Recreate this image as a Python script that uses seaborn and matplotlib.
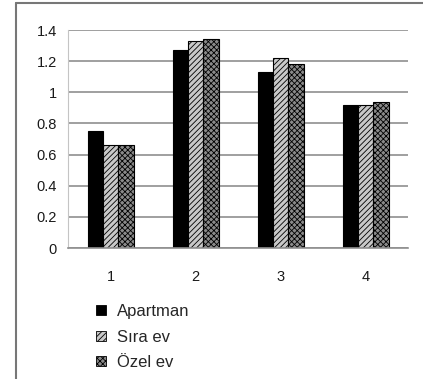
import matplotlib
matplotlib.use("Agg")
import matplotlib.pyplot as plt
from matplotlib.lines import Line2D
from matplotlib.patches import Patch
import seaborn as sns
import pandas as pd

categories = ["1", "2", "3", "4"]
series = ["Apartman", "Sıra ev", "Özel ev"]
apartman = [0.75, 1.27, 1.13, 0.92]
sira_ev = [0.66, 1.33, 1.22, 0.92]
ozel_ev = [0.66, 1.34, 1.18, 0.94]
yticks = [0, 0.2, 0.4, 0.6, 0.8, 1, 1.2, 1.4]
ytick_labels = ["0", "0.2", "0.4", "0.6", "0.8", "1", "1.2", "1.4"]

rows = []
for name, vals in zip(series, [apartman, sira_ev, ozel_ev]):
    for c, v in zip(categories, vals):
        rows.append({"cat": c, "series": name, "value": v})
df = pd.DataFrame(rows)

sns.set_theme(style="white")
plt.rcParams["font.family"] = ["Liberation Sans", "DejaVu Sans"]
plt.rcParams["hatch.linewidth"] = 0.6

fills = {"Apartman": "#000000", "Sıra ev": "#c8c8c8", "Özel ev": "#8a8a8a"}
hatches = {"Apartman": "", "Sıra ev": "//////", "Özel ev": "xxxxxx"}

fig = plt.figure(figsize=(4.23, 3.79), dpi=100)
ax = fig.add_axes([0.161, 0.3456, 0.804, 0.575])

sns.barplot(data=df, x="cat", y="value", hue="series", order=categories,
            hue_order=series, palette=fills, width=0.54, gap=0.0,
            edgecolor="black", linewidth=0.8, legend=False, ax=ax)

for container, name in zip(ax.containers, series):
    for bar in container:
        bar.set_hatch(hatches[name])

ax.set_ylim(0, 1.4)
ax.set_xlim(-0.5, 3.5)
ax.set_yticks(yticks)
ax.set_yticklabels(ytick_labels)
ax.yaxis.grid(True, color="#8f8f8f", linewidth=1.2)
ax.set_axisbelow(True)
for s in ["top", "right"]:
    ax.spines[s].set_visible(False)
ax.spines["left"].set_color("#c4c4c4")
ax.spines["left"].set_linewidth(0.8)
ax.spines["bottom"].set_color("#8f8f8f")
ax.spines["bottom"].set_linewidth(1.2)
ax.set_xlabel("")
ax.set_ylabel("")
ax.tick_params(axis="y", length=3, width=1.2, color="#8f8f8f", labelsize=10.5,
               pad=5, labelcolor="#1a1a1a")
ax.tick_params(axis="x", which="major", length=0, labelsize=10.5, pad=16,
               labelcolor="#1a1a1a")
ax.set_xticks([-0.5, 0.5, 1.5, 2.5, 3.5], minor=True)
ax.tick_params(axis="x", which="minor", length=4, width=1, color="#9a9a9a",
               direction="out")

handles = [Patch(facecolor=fills[n], edgecolor="black", hatch=hatches[n],
                 linewidth=0.6) for n in series]
fig.legend(handles, series, loc="upper left", bbox_to_anchor=(0.212, 0.215),
           frameon=False, fontsize=12, handlelength=0.55, handleheight=0.55,
           handletextpad=0.7, labelspacing=0.62, borderaxespad=0)

# outer frame: top and left edges
fig.add_artist(Line2D([0.038, 1.0], [0.992, 0.992], color="#777777",
                      linewidth=1.5, transform=fig.transFigure))
fig.add_artist(Line2D([0.038, 0.038], [0.0, 0.992], color="#777777",
                      linewidth=1.5, transform=fig.transFigure))

fig.savefig("out.png", dpi=100)
